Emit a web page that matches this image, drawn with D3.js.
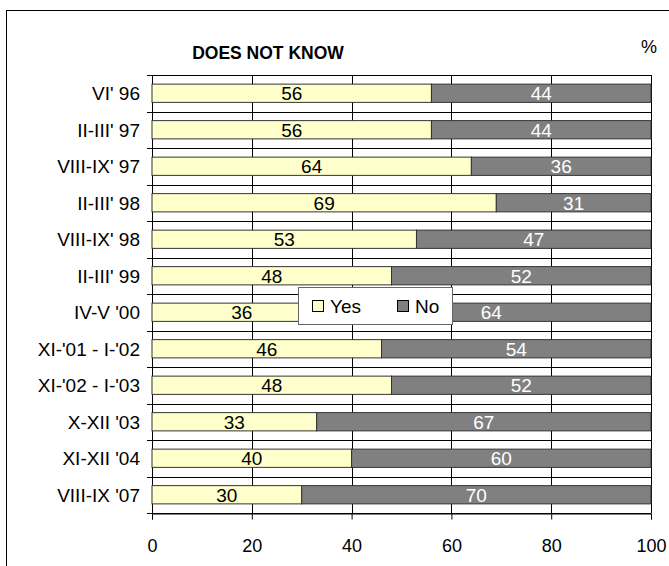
<!DOCTYPE html>
<html>
<head>
<meta charset="utf-8">
<script src="https://cdn.jsdelivr.net/npm/d3@7"></script>
<style>
  body { margin: 0; background: #fff; }
  text { font-family: "Liberation Sans", Arial, sans-serif; }
</style>
</head>
<body>
<div id="chart"></div>
<script>
var periods = ["VI' 96", "II-III' 97", "VIII-IX' 97", "II-III' 98", "VIII-IX' 98", "II-III' 99",
  "IV-V '00", "XI-'01 - I-'02", "XI-'02 - I-'03", "X-XII '03", "XI-XII '04", "VIII-IX '07"];
var yes = [56, 56, 64, 69, 53, 48, 36, 46, 48, 33, 40, 30];
var no = [44, 44, 36, 31, 47, 52, 64, 54, 52, 67, 60, 70];
var xTicks = [0, 20, 40, 60, 80, 100];

var width = 669, height = 566;
var plotLeft = 152, plotRight = 651, plotTop = 75, plotBottom = 513;

var svg = d3.select("#chart").append("svg")
  .attr("width", width)
  .attr("height", height);

// outer frame
svg.append("rect")
  .attr("x", 6.5).attr("y", 10.5)
  .attr("width", 700).attr("height", 600)
  .attr("fill", "#fff").attr("stroke", "#000").attr("stroke-width", 1);

var x = d3.scaleLinear().domain([0, 100]).range([plotLeft, plotRight]);
var y = d3.scaleBand().domain(periods).range([plotTop, plotBottom]).paddingInner(0.5).paddingOuter(0.25);
var step = y.step();

// title
svg.append("text")
  .attr("x", 268).attr("y", 59)
  .attr("text-anchor", "middle")
  .attr("font-size", 17.5).attr("font-weight", "bold")
  .text("DOES NOT KNOW");
svg.append("text")
  .attr("x", 649).attr("y", 53)
  .attr("text-anchor", "middle")
  .attr("font-size", 18)
  .text("%");

// vertical gridlines
svg.selectAll(".vgrid")
  .data(xTicks.slice(1))
  .enter().append("line")
  .attr("x1", d => Math.round(x(d)) + 0.5).attr("x2", d => Math.round(x(d)) + 0.5)
  .attr("y1", plotTop).attr("y2", plotBottom)
  .attr("stroke", "#000").attr("stroke-width", 1);

// horizontal lines at category boundaries
var bounds = d3.range(periods.length + 1);
svg.selectAll(".hgrid")
  .data(bounds)
  .enter().append("line")
  .attr("x1", plotLeft - 5).attr("x2", plotRight)
  .attr("y1", d => Math.round(plotTop + d * step) + 0.5)
  .attr("y2", d => Math.round(plotTop + d * step) + 0.5)
  .attr("stroke", "#000").attr("stroke-width", 1);

// left axis line
svg.append("line")
  .attr("x1", plotLeft + 0.5).attr("x2", plotLeft + 0.5)
  .attr("y1", plotTop).attr("y2", plotBottom)
  .attr("stroke", "#000");

// bottom axis
var xAxis = svg.append("g")
  .attr("transform", "translate(0," + (Math.round(plotBottom) + 0.5) + ")")
  .call(d3.axisBottom(x).tickValues(xTicks).tickSize(6).tickPadding(20));
xAxis.select(".domain").attr("stroke", "#000");
xAxis.selectAll("text").attr("font-size", 18).attr("fill", "#000")
  .style("font-family", "Liberation Sans, Arial, sans-serif");

// category labels
svg.selectAll(".cat")
  .data(periods)
  .enter().append("text")
  .attr("x", 140)
  .attr("y", d => y(d) + y.bandwidth() / 2)
  .attr("dy", "0.36em")
  .attr("text-anchor", "end")
  .attr("font-size", 19)
  .text(d => d);

// bars
var rows = periods.map((p, i) => ({ p: p, yes: yes[i], no: no[i] }));

svg.selectAll(".yes")
  .data(rows)
  .enter().append("rect")
  .attr("x", x(0))
  .attr("y", d => y(d.p))
  .attr("width", d => x(d.yes) - x(0))
  .attr("height", y.bandwidth())
  .attr("fill", "#FFFFCC").attr("stroke", "#333").attr("stroke-width", 1);

svg.selectAll(".no")
  .data(rows)
  .enter().append("rect")
  .attr("x", d => x(d.yes))
  .attr("y", d => y(d.p))
  .attr("width", d => x(d.yes + d.no) - x(d.yes))
  .attr("height", y.bandwidth())
  .attr("fill", "#808080").attr("stroke", "#333").attr("stroke-width", 1);

svg.selectAll(".yesLab")
  .data(rows)
  .enter().append("text")
  .attr("x", d => x(d.yes / 2))
  .attr("y", d => y(d.p) + y.bandwidth() / 2)
  .attr("dy", "0.36em")
  .attr("text-anchor", "middle")
  .attr("font-size", 19).attr("fill", "#000")
  .text(d => d.yes);

svg.selectAll(".noLab")
  .data(rows)
  .enter().append("text")
  .attr("x", d => x(d.yes + d.no / 2))
  .attr("y", d => y(d.p) + y.bandwidth() / 2)
  .attr("dy", "0.36em")
  .attr("text-anchor", "middle")
  .attr("font-size", 19).attr("fill", "#fff")
  .text(d => d.no);

// legend
var leg = svg.append("g").attr("transform", "translate(298,287)");
leg.append("rect")
  .attr("x", 0.5).attr("y", 0.5).attr("width", 154).attr("height", 37)
  .attr("fill", "#fff").attr("stroke", "#666");
var items = [{ label: "Yes", color: "#FFFFCC", x: 14 }, { label: "No", color: "#808080", x: 99 }];
items.forEach(function (it) {
  leg.append("rect")
    .attr("x", it.x + 0.5).attr("y", 13.5).attr("width", 11).attr("height", 11)
    .attr("fill", it.color).attr("stroke", "#000");
  leg.append("text")
    .attr("x", it.x + 18).attr("y", 19)
    .attr("dy", "0.36em")
    .attr("font-size", 19)
    .text(it.label);
});
</script>
</body>
</html>
